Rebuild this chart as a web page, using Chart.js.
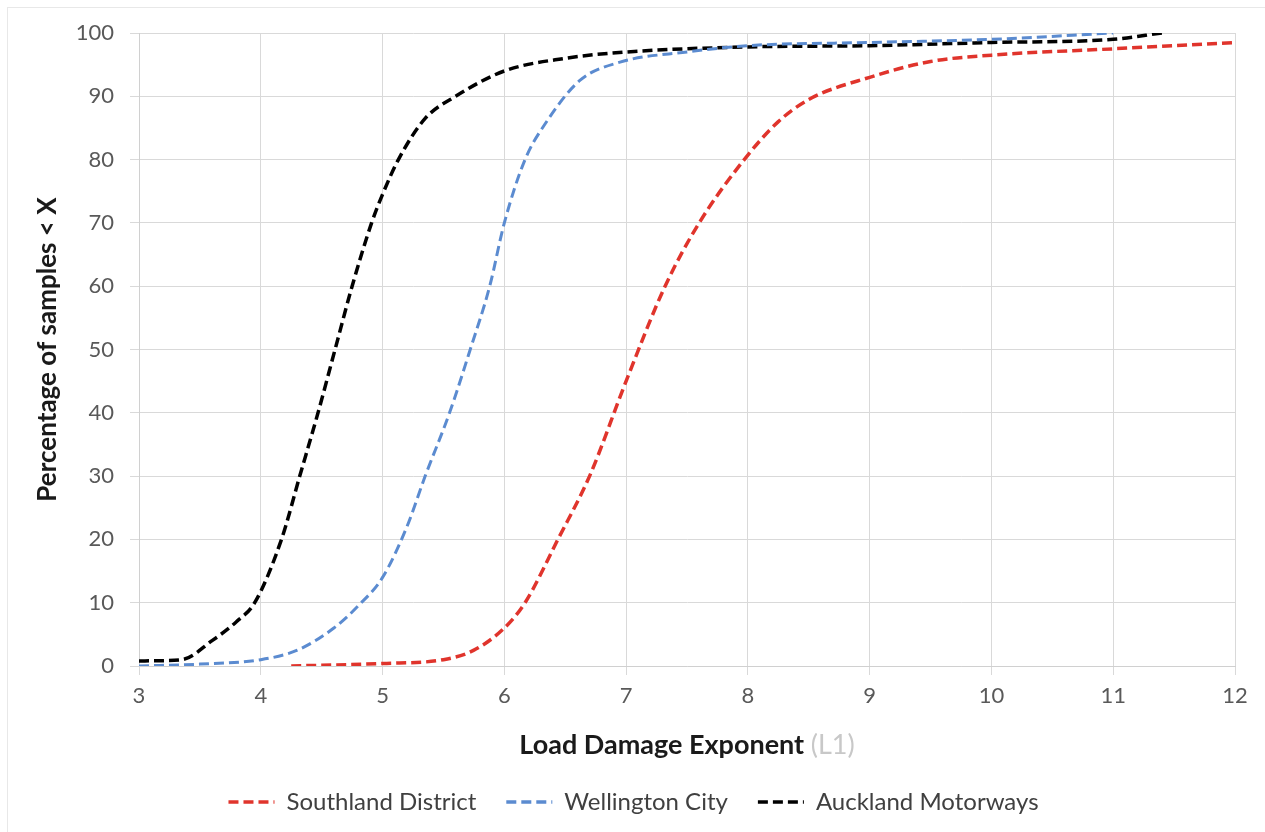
<!DOCTYPE html>
<html>
<head>
<meta charset="utf-8">
<script src="https://cdn.jsdelivr.net/npm/chart.js@4"></script>
<style>
  html, body { margin: 0; padding: 0; background: #fff; }
  #wrap { position: absolute; left: 0; top: 0; width: 1265px; height: 832px; }
  #frame { position: absolute; left: 7px; top: 7px; right: -2px; bottom: -2px; border: 1px solid #e8e8e8; }
</style>
</head>
<body>
<div id="wrap">
  <div id="frame"></div>
  <canvas id="myChart" width="1265" height="832"></canvas>
</div>
<script>
// waardes
var seriesNames = ["Southland District", "Wellington City", "Auckland Motorways"];

var southlandX = [4.25, 5, 5.5, 5.75, 6, 6.17, 6.44, 6.7, 7, 7.32, 7.6, 7.97, 8.25, 8.5, 9, 9.5, 10, 11, 12];
var southlandY = [0, 0.4, 1, 2.5, 6, 10, 20, 30, 45, 60, 70, 80, 86, 89.5, 93, 95.5, 96.5, 97.5, 98.5];

var wellingtonX = [3, 3.5, 4, 4.3, 4.6, 4.8, 5, 5.2, 5.35, 5.55, 5.72, 5.88, 6, 6.17, 6.33, 6.62, 6.95, 7.5, 8, 9, 10, 11];
var wellingtonY = [0, 0.3, 1, 2.5, 6, 9.5, 14, 22, 30, 40, 50, 60, 70, 80, 85.5, 92.5, 95.4, 97, 98, 98.5, 99, 100];

var aucklandX = [3, 3.35, 3.6, 3.8, 3.95, 4.17, 4.32, 4.47, 4.61, 4.75, 4.91, 5.0, 5.13, 5.35, 5.6, 6, 6.5, 7, 8, 9, 10, 11, 11.4];
var aucklandY = [0.8, 1, 4, 7, 10, 20, 30, 40, 50, 60, 70, 74.5, 80, 86.5, 90, 94, 96, 97, 97.8, 98, 98.5, 99, 100];

var xTicks = [3, 4, 5, 6, 7, 8, 9, 10, 11, 12];
var yTicks = [0, 10, 20, 30, 40, 50, 60, 70, 80, 90, 100];

function toPoints(xs, ys) {
  return xs.map(function(x, i) { return { x: x, y: ys[i] }; });
}

var FONT = "Lato, 'Open Sans', sans-serif";

// x-as titel met grijze (L1)
var xTitlePlugin = {
  id: 'xTitle',
  afterDraw: function(chart) {
    var ctx = chart.ctx;
    var area = chart.chartArea;
    var main = 'Load Damage Exponent ';
    var extra = '(L1)';
    ctx.save();
    ctx.font = "bold 27px " + FONT;
    var w1 = ctx.measureText(main).width;
    ctx.font = "27px " + FONT;
    var w2 = ctx.measureText(extra).width;
    var start = (area.left + area.right) / 2 - (w1 + w2) / 2;
    ctx.textBaseline = 'middle';
    ctx.textAlign = 'left';
    ctx.font = "bold 27px " + FONT;
    ctx.fillStyle = '#1a1a1a';
    ctx.fillText(main, start, 745);
    ctx.font = "27px " + FONT;
    ctx.fillStyle = '#c8c8c8';
    ctx.fillText(extra, start + w1, 745);
    ctx.restore();
  }
};

var ctx = document.getElementById("myChart").getContext('2d');
var myChart = new Chart(ctx, {
  type: 'scatter',
  data: {
    datasets: [{
      label: seriesNames[0],
      data: toPoints(southlandX, southlandY),
      borderColor: '#e0342c',
      backgroundColor: '#e0342c',
      borderWidth: 3.5,
      borderDash: [10, 5]
    }, {
      label: seriesNames[1],
      data: toPoints(wellingtonX, wellingtonY),
      borderColor: '#5b8bd0',
      backgroundColor: '#5b8bd0',
      borderWidth: 3,
      borderDash: [10, 5]
    }, {
      label: seriesNames[2],
      data: toPoints(aucklandX, aucklandY),
      borderColor: '#000000',
      backgroundColor: '#000000',
      borderWidth: 3.5,
      borderDash: [10, 5]
    }]
  },
  options: {
    responsive: false,
    animation: false,
    showLine: true,
    layout: { padding: { left: 32, right: 30, top: 33, bottom: 8 } },
    elements: {
      point: { radius: 0, hoverRadius: 0, pointStyle: 'line' },
      line: { cubicInterpolationMode: 'monotone', fill: false }
    },
    scales: {
      x: {
        type: 'linear',
        min: 3,
        max: 12,
        afterBuildTicks: function(scale) {
          scale.ticks = xTicks.map(function(v) { return { value: v }; });
        },
        afterFit: function(scale) { scale.height = 94; },
        grid: { color: '#d9d9d9', tickLength: 9 },
        border: { color: '#d0d0d0' },
        ticks: { color: '#595959', font: { family: FONT, size: 22 }, padding: 8, maxRotation: 0 }
      },
      y: {
        min: 0,
        max: 100,
        afterBuildTicks: function(scale) {
          scale.ticks = yTicks.map(function(v) { return { value: v }; });
        },
        afterFit: function(scale) { scale.width = 107; },
        grid: { color: '#d9d9d9', tickLength: 9 },
        border: { color: '#d0d0d0' },
        ticks: { color: '#595959', font: { family: FONT, size: 22 }, padding: 16 },
        title: {
          display: true,
          text: 'Percentage of samples < X',
          color: '#1a1a1a',
          font: { family: FONT, size: 26, weight: 'bold' },
          padding: { top: 0, bottom: 4 }
        }
      }
    },
    plugins: {
      legend: {
        position: 'bottom',
        labels: {
          usePointStyle: true,
          pointStyle: 'line',
          pointStyleWidth: 46,
          color: '#404040',
          font: { family: FONT, size: 24 },
          padding: 30,
          generateLabels: function(chart) {
            var items = Chart.defaults.plugins.legend.labels.generateLabels(chart);
            items.forEach(function(item, i) {
              item.lineDash = chart.data.datasets[i].borderDash;
              item.lineWidth = 3.5;
            });
            return items;
          }
        }
      },
      tooltip: { enabled: false }
    }
  },
  plugins: [xTitlePlugin]
});
</script>
</body>
</html>
